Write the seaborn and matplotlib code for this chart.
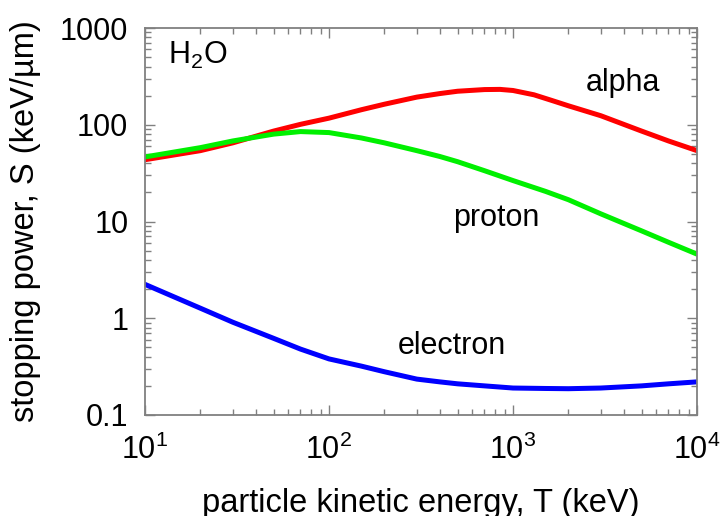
import numpy as np
import pandas as pd
import matplotlib
matplotlib.use("Agg")
import matplotlib.pyplot as plt
import seaborn as sns
from matplotlib.ticker import LogLocator, NullFormatter, FixedLocator, FixedFormatter

# ---- data ----
alpha_T = [10, 20, 30, 50, 70, 100, 150, 200, 300, 400, 500, 700, 850, 1000, 1300, 1600, 2000, 3000, 5000, 7000, 10000]
alpha_S = [43.5, 54, 65, 86, 101, 117, 143, 163, 193, 210, 222, 231, 232, 226, 204, 180, 157, 124, 86, 68, 54]

proton_T = [10, 20, 30, 50, 70, 100, 150, 200, 300, 400, 500, 700, 1000, 1500, 2000, 3000, 5000, 7000, 10000]
proton_S = [46.5, 58, 68, 80, 85, 83, 73, 65, 54, 47, 41.5, 33.5, 26.5, 20.5, 16.8, 12.0, 8.0, 6.1, 4.6]

electron_T = [10, 20, 30, 50, 70, 100, 150, 200, 300, 400, 500, 700, 1000, 1500, 2000, 3000, 5000, 7000, 10000]
electron_S = [2.24, 1.27, 0.91, 0.62, 0.48, 0.38, 0.32, 0.28, 0.235, 0.22, 0.21, 0.20, 0.19, 0.188, 0.187, 0.19, 0.20, 0.21, 0.22]

series_names = ["alpha", "proton", "electron"]
series_colors = ["#ff0000", "#00f000", "#0000ff"]

y_ticks = [0.1, 1, 10, 100, 1000]
y_ticklabels = ["0.1", "1", "10", "100", "1000"]
x_ticks = [10, 100, 1000, 10000]

xlabel = "particle kinetic energy, T (keV)"
ylabel = "stopping power, S (keV/\u00b5m)"

df = pd.concat([
    pd.DataFrame({"T": alpha_T, "S": alpha_S, "particle": "alpha"}),
    pd.DataFrame({"T": proton_T, "S": proton_S, "particle": "proton"}),
    pd.DataFrame({"T": electron_T, "S": electron_S, "particle": "electron"}),
])

sns.set_style("ticks")
plt.rcParams["font.family"] = ["Liberation Sans", "DejaVu Sans"]
plt.rcParams["mathtext.fontset"] = "custom"
plt.rcParams["mathtext.rm"] = "Liberation Sans"
plt.rcParams["mathtext.it"] = "Liberation Sans:italic"
plt.rcParams["mathtext.bf"] = "Liberation Sans:bold"
plt.rcParams["text.color"] = "black"
plt.rcParams["axes.labelcolor"] = "black"
plt.rcParams["xtick.labelcolor"] = "black"
plt.rcParams["ytick.labelcolor"] = "black"

fig = plt.figure(figsize=(7.21, 5.16), dpi=100)
ax = fig.add_axes([145 / 721, 1 - 415 / 516, (697 - 145) / 721, (415 - 28) / 516])

sns.lineplot(data=df, x="T", y="S", hue="particle", hue_order=series_names,
             palette=dict(zip(series_names, series_colors)), linewidth=3.6,
             legend=False, ax=ax, sort=True, estimator=None)

ax.set_xscale("log")
ax.set_yscale("log")
ax.set_xlim(10, 10000)
ax.set_ylim(0.1, 1000)

ax.xaxis.set_major_locator(FixedLocator(x_ticks))
ax.xaxis.set_minor_locator(LogLocator(base=10, subs=np.arange(2, 10), numticks=20))
ax.xaxis.set_minor_formatter(NullFormatter())
ax.yaxis.set_major_locator(FixedLocator(y_ticks))
ax.yaxis.set_major_formatter(FixedFormatter(y_ticklabels))
ax.yaxis.set_minor_locator(LogLocator(base=10, subs=np.arange(2, 10), numticks=20))
ax.yaxis.set_minor_formatter(NullFormatter())

frame_col = "#808080"
for sp in ax.spines.values():
    sp.set_visible(True)
    sp.set_color(frame_col)
    sp.set_linewidth(1.3)

ax.tick_params(which="both", direction="in", top=True, right=True, color=frame_col, width=1.0)
ax.tick_params(which="major", length=7)
ax.tick_params(which="minor", length=4.5)
ax.tick_params(axis="y", which="major", labelsize=22, pad=12, labelcolor="black")
ax.tick_params(axis="x", which="major", labelsize=22, pad=14, labelcolor="black")

ax.set_xlabel(xlabel, fontsize=23.5, labelpad=16, color="black")
ax.set_ylabel(ylabel, fontsize=23.5, labelpad=14, color="black")

ax.text(0.042, 0.93, "H$_2$O", transform=ax.transAxes, fontsize=22, va="center", ha="left", color="black")
ax.text(0.866, 0.858, "alpha", transform=ax.transAxes, fontsize=22, va="center", ha="center", color="black")
ax.text(0.636, 0.509, "proton", transform=ax.transAxes, fontsize=22, va="center", ha="center", color="black")
ax.text(0.556, 0.178, "electron", transform=ax.transAxes, fontsize=22, va="center", ha="center", color="black")

fig.savefig("out.png", dpi=100)
